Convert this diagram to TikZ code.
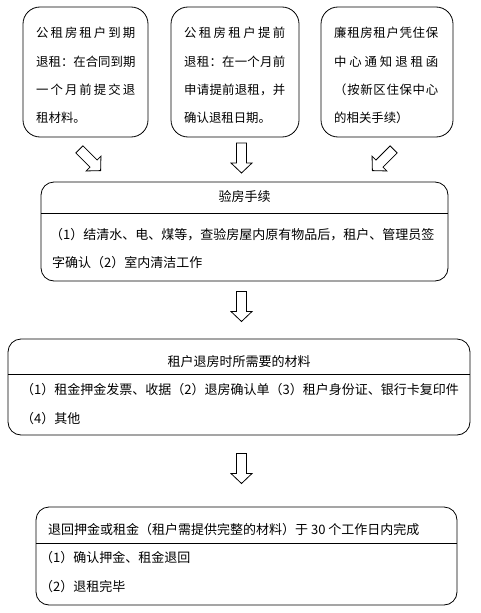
\documentclass[tikz,border=0pt]{standalone}
\usepackage{fontspec}
\setmainfont{Noto Sans CJK SC}
\newcommand\sline[2]{\makebox[#1][s]{#2}}
\newcommand\blockarrow[3]{\draw[blk, shift={(#1,#2)}, rotate=#3] (-5,-15) -- (5,-15) -- (5,5) -- (10.5,5) -- (0,15) -- (-10.5,5) -- (-5,5) -- cycle;}
\begin{document}
\begin{tikzpicture}[x=1pt,y=-1pt,
  topbox/.style={draw, line width=0.8pt, rounded corners=17pt},
  widebox/.style={draw, line width=0.8pt, rounded corners=13pt},
  blk/.style={draw, line width=0.8pt, fill=white, line join=miter},
  tline/.style={anchor=west, inner sep=0pt, font=\fontsize{12.4}{14}\selectfont},
  bline/.style={anchor=west, inner sep=0pt, font=\fontsize{13}{15}\selectfont},
  ttl/.style={inner sep=0pt, font=\fontsize{13}{15}\selectfont},
]
\useasboundingbox (0,0) rectangle (480,613);
% top boxes
\node[topbox, minimum width=125pt, minimum height=130pt] (b1) at (85.5,72) {};
\node[topbox, minimum width=128pt, minimum height=130pt] (b2) at (235,72) {};
\node[topbox, minimum width=132pt, minimum height=130pt] (b3) at (387,72) {};
% box 1 text
\node[tline] (b1l1) at (36,33) {\sline{99pt}{公\hfil 租\hfil 房\hfil 租\hfil 户\hfil 到\hfil 期}};
\node[tline] (b1l2) at (36,62) {\sline{99pt}{退\hfil 租\hfil ：\hfil 在\hfil 合\hfil 同\hfil 到\hfil 期}};
\node[tline] (b1l3) at (36,90) {\sline{99pt}{一\hfil 个\hfil 月\hfil 前\hfil 提\hfil 交\hfil 退}};
\node[tline] (b1l4) at (36,118) {租材料。};
% box 2 text
\node[tline] (b2l1) at (184,33) {\sline{101pt}{公\hfil 租\hfil 房\hfil 租\hfil 户\hfil 提\hfil 前}};
\node[tline] (b2l2) at (184,62) {\sline{101pt}{退\hfil 租\hfil ：\hfil 在\hfil 一\hfil 个\hfil 月\hfil 前}};
\node[tline] (b2l3) at (184,90) {\sline{101pt}{申\hfil 请\hfil 提\hfil 前\hfil 退\hfil 租\hfil ，\hfil 并}};
\node[tline] (b2l4) at (184,118) {确认退租日期。};
% box 3 text
\node[tline] (b3l1) at (334,33) {\sline{104pt}{廉\hfil 租\hfil 房\hfil 租\hfil 户\hfil 凭\hfil 住\hfil 保}};
\node[tline] (b3l2) at (334,62) {\sline{104pt}{中\hfil 心\hfil 通\hfil 知\hfil 退\hfil 租\hfil 函}};
\node[tline] (b3l3) at (334,90) {\sline{104pt}{（\hfil 按\hfil 新\hfil 区\hfil 住\hfil 保\hfil 中\hfil 心}};
\node[tline] (b3l4) at (334,118) {的相关手续）};
% arrows
\blockarrow{90}{160}{45}
\blockarrow{241.5}{158}{0}
\blockarrow{383}{160}{-45}
% box 4
\node[widebox, minimum width=407pt, minimum height=99pt] (b4) at (244.5,231.5) {};
\draw[line width=0.8pt] (41,213) -- (448,213);
\node[ttl] (b4t) at (244.5,197) {验房手续};
\node[bline] (b4l1) at (50,235) {（1）结清水、电、煤等，查验房屋内原有物品后，租户、管理员签};
\node[bline] (b4l2) at (52,263) {字确认（2）室内清洁工作};
\blockarrow{241.5}{306.5}{0}
% box 5
\node[widebox, minimum width=462pt, minimum height=96pt] (b5) at (239,387) {};
\draw[line width=0.8pt] (8,374) -- (470,374);
\node[ttl] (b5t) at (239,362) {租户退房时所需要的材料};
\node[bline] (b5l1) at (21,390) {（1）租金押金发票、收据（2）退房确认单（3）租户身份证、银行卡复印件};
\node[bline] (b5l2) at (21,419) {（4）其他};
\blockarrow{241.5}{468.5}{0}
% box 6
\node[widebox, minimum width=421pt, minimum height=98pt] (b6) at (246.5,556) {};
\draw[line width=0.8pt] (36,543) -- (457,543);
\node[bline] (b6t) at (48,530) {退回押金或租金（租户需提供完整的材料）于 30 个工作日内完成};
\node[bline] (b6l1) at (40,558) {（1）确认押金、租金退回};
\node[bline] (b6l2) at (40,587) {（2）退租完毕};
\end{tikzpicture}
\end{document}
